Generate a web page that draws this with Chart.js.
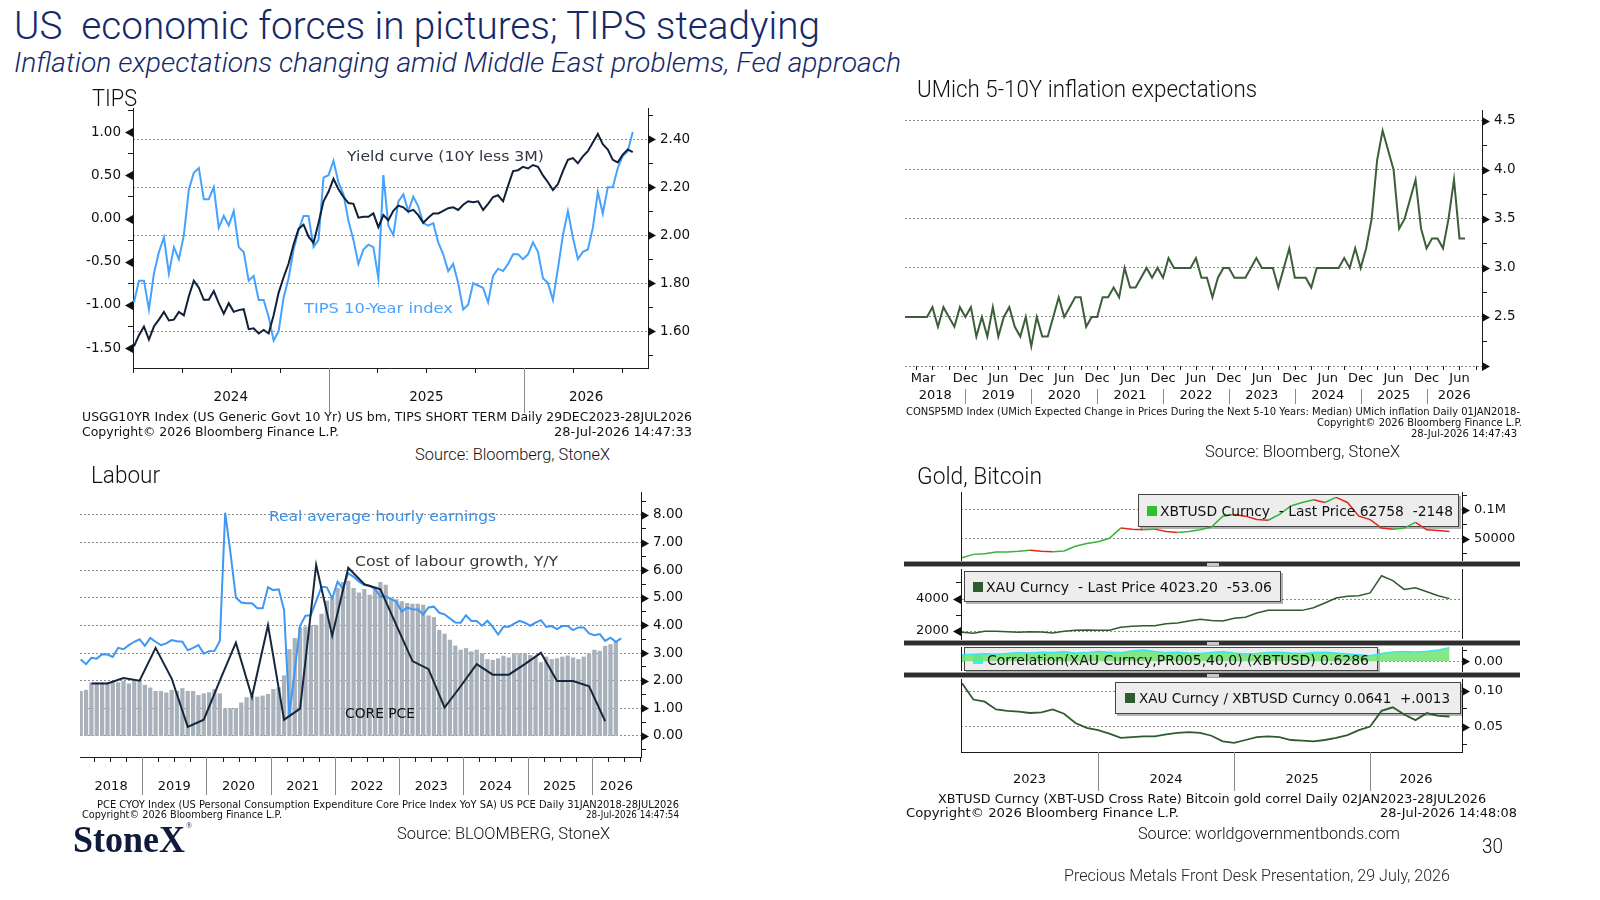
<!DOCTYPE html>
<html>
<head>
<meta charset="utf-8">
<title>US economic forces in pictures</title>
<script src="https://cdn.jsdelivr.net/npm/chart.js@4.4.1/dist/chart.umd.min.js"></script>
<style>
  html, body { margin: 0; padding: 0; background: #fff; }
  #slide { position: relative; width: 1600px; height: 900px; overflow: hidden; background: #fff; }
  #slide canvas { position: absolute; }
  .t { position: absolute; white-space: pre; line-height: 1; transform-origin: 0 50%; }
  .sep { position: absolute; left: 904px; width: 616px; height: 4px; background: #2e2e2e;
         border-top: 1px solid #a0a0a0; border-bottom: 1px solid #a0a0a0; }
  .notch { position: absolute; left: 1207px; width: 12px; height: 3px; background: #c8c8c8; }
</style>
</head>
<body>
<div id="slide"></div>
<script>
// ---------- data ----------
// TIPS panel: one reading every ~9 days, end Dec 2023 .. 28 Jul 2026
const tipsStart = 2024.005;
const tipsStep = 0.0255;
const yieldCurve10y3m = [
  -1.48, -1.35, -1.25, -1.40, -1.25, -1.17, -1.08, -1.18, -1.17, -1.08,
  -1.12, -0.90, -0.72, -0.80, -0.94, -0.94, -0.84, -0.98, -1.10, -0.98,
  -1.08, -1.06, -1.05, -1.28, -1.27, -1.33, -1.29, -1.33, -1.12, -0.86,
  -0.68, -0.52, -0.30, -0.12, -0.07, -0.21, -0.28, -0.05, 0.20, 0.31,
  0.46, 0.34, 0.25, 0.18, 0.17, 0.01, 0.02, 0.02, 0.06, -0.10,
  0.04, -0.02, 0.09, 0.15, 0.13, 0.08, 0.10, 0.04, -0.05, 0.01,
  0.06, 0.06, 0.09, 0.12, 0.13, 0.10, 0.16, 0.20, 0.19, 0.20,
  0.10, 0.17, 0.25, 0.27, 0.20, 0.38, 0.55, 0.56, 0.60, 0.58,
  0.62, 0.60, 0.50, 0.42, 0.33, 0.40, 0.55, 0.68, 0.70, 0.64,
  0.72, 0.78, 0.88, 0.98, 0.86, 0.80, 0.68, 0.65, 0.74, 0.80,
  0.77
];
const tips10yIndex = [
  1.72, 1.81, 1.81, 1.69, 1.84, 1.93, 1.99, 1.84, 1.95, 1.90,
  2.00, 2.19, 2.26, 2.28, 2.15, 2.15, 2.20, 2.03, 2.08, 2.04,
  2.10, 1.95, 1.93, 1.81, 1.83, 1.73, 1.73, 1.66, 1.56, 1.60,
  1.74, 1.82, 1.94, 2.02, 2.08, 2.08, 1.95, 1.98, 2.24, 2.25,
  2.31, 2.22, 2.17, 2.06, 1.98, 1.88, 1.94, 1.96, 1.95, 1.82,
  2.25, 2.04, 2.00, 2.14, 2.17, 2.10, 2.16, 2.12, 2.05, 2.04,
  2.05, 1.97, 1.92, 1.85, 1.88, 1.80, 1.69, 1.71, 1.80, 1.79,
  1.78, 1.72, 1.83, 1.86, 1.85, 1.88, 1.92, 1.92, 1.90, 1.92,
  1.97, 1.93, 1.82, 1.80, 1.73, 1.86, 2.00, 2.10, 1.99, 1.90,
  1.93, 1.94, 2.03, 2.18, 2.09, 2.20, 2.20, 2.28, 2.33, 2.35,
  2.43
];
const tipsLeftMajor = [-1.5, -1, -0.5, 0, 0.5, 1];
const tipsLeftMinor = [-1.25, -0.75, -0.25, 0.25, 0.75, 1.25];
const tipsRightMajor = [1.6, 1.8, 2.0, 2.2, 2.4];
const tipsRightMinor = [1.5, 1.7, 1.9, 2.1, 2.3, 2.5];
const tipsYears = ['2024', '2025', '2026'];

// UMich 5-10Y expectations, monthly Jan 2018 .. Jul 2026
const umich5to10Y = [
  2.5, 2.5, 2.5, 2.5, 2.5, 2.6, 2.4, 2.6, 2.5, 2.4, 2.6, 2.5,
  2.6, 2.3, 2.5, 2.3, 2.6, 2.3, 2.5, 2.6, 2.4, 2.3, 2.5, 2.2,
  2.5, 2.3, 2.3, 2.5, 2.7, 2.5, 2.6, 2.7, 2.7, 2.4, 2.5, 2.5,
  2.7, 2.7, 2.8, 2.7, 3.0, 2.8, 2.8, 2.9, 3.0, 2.9, 3.0, 2.9,
  3.1, 3.0, 3.0, 3.0, 3.0, 3.1, 2.9, 2.9, 2.7, 2.9, 3.0, 3.0,
  2.9, 2.9, 2.9, 3.0, 3.1, 3.0, 3.0, 3.0, 2.8, 3.0, 3.2, 2.9,
  2.9, 2.9, 2.8, 3.0, 3.0, 3.0, 3.0, 3.0, 3.1, 3.0, 3.2, 3.0,
  3.2, 3.5, 4.1, 4.4, 4.2, 4.0, 3.4, 3.5, 3.7, 3.9, 3.4, 3.2,
  3.3, 3.3, 3.2, 3.5, 3.9, 3.3, 3.3
];
const umichMajor = [2.0, 2.5, 3.0, 3.5, 4.0, 4.5];
const umichLabelled = [2.5, 3.0, 3.5, 4.0, 4.5];
const umichMinor = [2.25, 2.75, 3.25, 3.75, 4.25];
const umichMonthLabels = ['Mar', 'Dec', 'Jun', 'Dec', 'Jun', 'Dec', 'Jun', 'Dec', 'Jun',
  'Dec', 'Jun', 'Dec', 'Jun', 'Dec', 'Jun', 'Dec', 'Jun'];
const umichYears = ['2018', '2019', '2020', '2021', '2022', '2023', '2024', '2025', '2026'];

// Labour panel, monthly Jan 2018 ..
const corePce = [
  1.62, 1.66, 1.93, 1.93, 1.93, 1.93, 1.98, 1.93, 1.98, 1.89,
  1.98, 1.98, 1.84, 1.74, 1.62, 1.62, 1.56, 1.66, 1.62, 1.72,
  1.62, 1.62, 1.47, 1.53, 1.57, 1.69, 1.53, 0.99, 0.99, 0.99,
  1.20, 1.39, 1.44, 1.41, 1.45, 1.51, 1.69, 1.75, 2.18, 3.13,
  3.53, 3.92, 3.95, 3.99, 4.01, 4.41, 4.88, 5.01, 5.34, 5.56,
  5.61, 5.34, 5.18, 5.31, 5.10, 5.40, 5.56, 5.46, 5.00, 4.94,
  4.86, 4.80, 4.77, 4.77, 4.74, 4.35, 4.29, 3.83, 3.69, 3.47,
  3.26, 3.11, 3.17, 3.05, 3.11, 2.98, 2.77, 2.74, 2.80, 2.89,
  2.83, 2.98, 2.98, 2.98, 2.92, 2.86, 2.66, 2.86, 2.77, 2.80,
  2.86, 2.90, 2.83, 2.77, 2.86, 2.98, 3.11, 3.07, 3.25, 3.31,
  3.41
];
const realHourlyEarnings = [
  2.77, 2.60, 2.83, 2.80, 2.96, 2.95, 2.86, 3.19, 3.14, 3.29,
  3.41, 3.50, 3.26, 3.55, 3.41, 3.29, 3.35, 3.47, 3.43, 3.41,
  3.10, 3.19, 3.29, 2.98, 3.07, 3.08, 3.44, 8.08, 6.61, 5.01,
  4.83, 4.80, 4.80, 4.62, 4.62, 5.38, 5.28, 5.31, 4.56, 0.75,
  2.38, 3.99, 4.35, 4.37, 4.88, 5.40, 5.38, 4.98, 5.58, 5.34,
  5.89, 5.76, 5.58, 5.46, 5.44, 5.32, 5.04, 5.06, 4.95, 4.86,
  4.50, 4.65, 4.59, 4.58, 4.40, 4.65, 4.68, 4.46, 4.40, 4.25,
  4.11, 4.10, 4.37, 4.16, 4.16, 3.99, 4.17, 3.95, 3.67, 3.95,
  3.95, 4.07, 4.17, 4.10, 3.99, 4.10, 4.19, 3.95, 3.98, 3.87,
  3.98, 3.98, 3.83, 3.93, 3.93, 3.71, 3.65, 3.69, 3.44, 3.56,
  3.41, 3.53
];
// quarterly, Mar 2018 .. Mar 2026
const labourCostQ = [1.9, 1.9, 2.1, 2.0, 3.19, 2.08, 0.33, 0.59, 2.0, 3.38, 1.41,
  4.01, 0.59, 0.99, 6.19, 3.63, 6.09, 5.49, 5.31, 4.0, 2.71, 2.42, 1.03, 1.8,
  2.6, 2.22, 2.22, 2.6, 3.01, 1.99, 1.99, 1.8, 0.54];
const labourMajor = [0, 1, 2, 3, 4, 5, 6, 7, 8];
const labourMinor = [-0.5, 0.5, 1.5, 2.5, 3.5, 4.5, 5.5, 6.5, 7.5, 8.5];
const labourYears = ['2018', '2019', '2020', '2021', '2022', '2023', '2024', '2025', '2026'];

// Gold / Bitcoin, monthly Jan 2023 .. Jul 2026
const xbtusd = [17650, 23500, 24700, 27600, 27600, 28800, 30600, 28800, 28200, 29400,
  37600, 42400, 45300, 51200, 68800, 67000, 65900, 67000, 63000, 61200, 63000, 65900,
  70600, 89400, 92400, 89400, 83500, 82400, 92400, 107000, 113000, 117600, 113000,
  121800, 113000, 89400, 83500, 68800, 67000, 68800, 78800, 65900, 64700, 62758];
const xau = [1920, 1860, 1980, 1990, 1960, 1920, 1960, 1940, 1870, 1990, 2040, 2060,
  2040, 2050, 2230, 2290, 2330, 2330, 2450, 2500, 2630, 2740, 2650, 2620,
  2800, 2860, 3120, 3290, 3290, 3300, 3290, 3450, 3750, 4060, 4170, 4210,
  4380, 5450, 5150, 4600, 4700, 4450, 4200, 4023.2];
const xauXbtCorr = [0.30, 0.33, 0.35, 0.32, 0.36, 0.40, 0.38, 0.42, 0.40, 0.44,
  0.38, 0.40, 0.45, 0.42, 0.40, 0.48, 0.52, 0.45, 0.40, 0.42,
  0.38, 0.36, 0.40, 0.44, 0.38, 0.34, 0.36, 0.40, 0.42, 0.38,
  0.36, 0.40, 0.42, 0.38, 0.34, 0.30, 0.26, 0.36, 0.43, 0.45,
  0.43, 0.46, 0.52, 0.6286];
const xauPerXbt = [0.111, 0.088, 0.085, 0.074, 0.072, 0.071, 0.069, 0.070, 0.074, 0.068,
  0.055, 0.048, 0.045, 0.040, 0.034, 0.035, 0.036, 0.036, 0.039, 0.041,
  0.042, 0.041, 0.037, 0.029, 0.027, 0.031, 0.035, 0.036, 0.035, 0.031,
  0.030, 0.029, 0.031, 0.034, 0.038, 0.045, 0.050, 0.072, 0.077, 0.067,
  0.059, 0.069, 0.065, 0.0641];
const goldYears = ['2023', '2024', '2025', '2026'];

// ---------- helpers ----------
const slide = document.getElementById('slide');
const SANS = 'Roboto, Inter, "Noto Sans", sans-serif';
const BBG = '"DejaVu Sans", Verdana, sans-serif';
const NAVY = '#15296a';

Chart.defaults.font.family = BBG;
Chart.defaults.font.size = 13.5;
Chart.defaults.color = '#111';
Chart.defaults.animation = false;
Chart.defaults.responsive = false;
Chart.defaults.maintainAspectRatio = false;
Chart.defaults.plugins.legend.display = false;
Chart.defaults.plugins.tooltip.enabled = false;
Chart.defaults.elements.point.radius = 0;
Chart.defaults.elements.line.tension = 0;

function canvasAt(left, top, w, h) {
  const c = document.createElement('canvas');
  c.width = w; c.height = h;
  Object.assign(c.style, { left: left + 'px', top: top + 'px', width: w + 'px', height: h + 'px' });
  slide.appendChild(c);
  return c;
}

function label(text, o) {
  const d = document.createElement('div');
  d.className = 't';
  d.textContent = text;
  d.style.fontFamily = o.family || SANS;
  d.style.fontSize = o.size + 'px';
  d.style.fontStyle = o.italic ? 'italic' : 'normal';
  d.style.fontWeight = o.weight || (o.family ? 400 : 300);
  d.style.color = o.color || '#111';
  if (o.stroke) d.style.webkitTextStroke = o.stroke;
  slide.appendChild(d);
  const nat = d.getBoundingClientRect().width;
  const w = o.w || nat;
  d.style.transform = 'scaleX(' + (w / nat).toFixed(4) + ')';
  d.style.left = (o.right != null ? o.right - w : o.x) + 'px';
  d.style.top = (o.cy - o.size / 2) + 'px';
  return d;
}

const pts = (arr, x0, step) => arr.map((v, i) => ({ x: x0 + i * step, y: v }));
const near = (list, v) => list.some(m => Math.abs(m - v) < 1e-9);
function centers(edges) {
  const out = [];
  for (let i = 0; i < edges.length - 1; i++) out.push((edges[i] + edges[i + 1]) / 2);
  return out;
}

function yAxis({ pos, min, max, major, minor = [], labelled = major, fmt, width, grid = false, size = 13.5 }) {
  const all = major.concat(minor).filter(v => v >= min && v <= max).sort((a, b) => a - b);
  return {
    position: pos, min, max,
    afterBuildTicks: s => { s.ticks = all.map(v => ({ value: v })); },
    afterFit: s => { s.width = width; s.paddingTop = 0; s.paddingBottom = 0; },
    ticks: { autoSkip: false, padding: 7, font: { size }, color: '#111',
      callback: v => near(labelled, v) ? fmt(v) : '' },
    grid: { drawOnChartArea: grid, drawTicks: true, tickLength: 5, tickColor: '#1a1a1a', tickWidth: 1,
      lineWidth: 1, color: c => (grid && c.tick && near(major, c.tick.value)) ? '#8e8e8e' : 'rgba(0,0,0,0)' },
    border: { display: true, color: '#1a1a1a', width: 1, dash: [2, 2] }
  };
}

// Bloomberg style triangles on the labelled ticks
function arrows(list) {
  return {
    id: 'arrows',
    afterDraw(chart) {
      const ctx = chart.ctx;
      ctx.save();
      ctx.fillStyle = '#111';
      list.forEach(a => {
        const s = chart.scales[a.id];
        const ax = a.side === 'left' ? s.right : s.left;
        const dir = a.side === 'left' ? -8 : 8;
        a.values.forEach(v => {
          const y = Math.round(s.getPixelForValue(v)) + 0.5;
          ctx.beginPath();
          ctx.moveTo(ax, y - 4.5);
          ctx.lineTo(ax + dir, y);
          ctx.lineTo(ax, y + 4.5);
          ctx.closePath();
          ctx.fill();
        });
      });
      ctx.restore();
    }
  };
}

// date axis under the plot: line, tick marks, year separators and label rows
function bottomAxis(o) {
  return {
    id: 'bottomAxis',
    afterDraw(chart) {
      const { ctx, chartArea: a } = chart;
      const x = chart.scales.x;
      const px = v => Math.round(x.getPixelForValue(v)) + 0.5;
      const y0 = Math.round(a.bottom);
      ctx.save();
      ctx.lineWidth = 1;
      (o.frame || []).forEach(side => {
        const xx = Math.round(side === 'left' ? a.left : a.right) + 0.5;
        ctx.strokeStyle = '#1a1a1a';
        ctx.beginPath(); ctx.moveTo(xx, a.top); ctx.lineTo(xx, a.bottom); ctx.stroke();
      });
      if (o.line) {
        ctx.strokeStyle = o.line;
        ctx.beginPath(); ctx.moveTo(a.left, y0 + 0.5); ctx.lineTo(a.right, y0 + 0.5); ctx.stroke();
      }
      ctx.strokeStyle = '#1a1a1a';
      (o.ticks || []).forEach(v => {
        ctx.beginPath(); ctx.moveTo(px(v), y0); ctx.lineTo(px(v), y0 + o.tickLen); ctx.stroke();
      });
      ctx.strokeStyle = o.sepColor || '#8a8a8a';
      (o.seps || []).forEach(v => {
        ctx.beginPath(); ctx.moveTo(px(v), y0 + (o.sepFrom || 0)); ctx.lineTo(px(v), y0 + o.sepTo); ctx.stroke();
      });
      ctx.fillStyle = '#111';
      ctx.textAlign = 'center';
      ctx.textBaseline = 'middle';
      ctx.font = (o.fontSize || 13.5) + 'px ' + BBG;
      (o.rows || []).forEach(r => r.text.forEach((t, i) => ctx.fillText(t, x.getPixelForValue(r.at[i]), y0 + r.dy)));
      ctx.restore();
    }
  };
}

// grey legend box, drawn under the series like the terminal does
function legendBox(cl, ct, b) {
  return {
    id: 'legendBox',
    beforeDatasetsDraw(chart) {
      const ctx = chart.ctx;
      const x = b.x1 - cl, y = b.y1 - ct, w = b.x2 - b.x1, h = b.y2 - b.y1;
      ctx.save();
      ctx.fillStyle = 'rgba(0,0,0,0.3)';
      ctx.fillRect(x + 2, y + 2, w, h);
      ctx.fillStyle = '#ededed';
      ctx.fillRect(x, y, w, h);
      ctx.strokeStyle = '#444';
      ctx.lineWidth = 1;
      ctx.strokeRect(x + 0.5, y + 0.5, w - 1, h - 1);
      ctx.fillStyle = b.color;
      ctx.fillRect(b.sx - cl, Math.round(y + h / 2 - 5), 10, 10);
      ctx.restore();
    }
  };
}

// ---------- TIPS ----------
const tipsMin = 2024, tipsMax = 2026.633;
const tipsSeps = [2025, 2026];
const tipsQuarters = [];
for (let q = 2024; q <= 2026.5; q += 0.25) tipsQuarters.push(q);
new Chart(canvasAt(70, 90, 640, 340), {
  type: 'line',
  data: { datasets: [
    { data: pts(yieldCurve10y3m, tipsStart, tipsStep), yAxisID: 'y', borderColor: '#0f2038', borderWidth: 2 },
    { data: pts(tips10yIndex, tipsStart, tipsStep), yAxisID: 'y1', borderColor: '#45a2ff', borderWidth: 2 }
  ] },
  options: {
    layout: { padding: { top: 18, bottom: 62 } },
    scales: {
      x: { type: 'linear', display: false, min: tipsMin, max: tipsMax },
      y: yAxis({ pos: 'left', min: -1.73, max: 1.28, major: tipsLeftMajor, minor: tipsLeftMinor, fmt: v => v.toFixed(2), width: 63 }),
      y1: yAxis({ pos: 'right', min: 1.446, max: 2.53, major: tipsRightMajor, minor: tipsRightMinor, fmt: v => v.toFixed(2), width: 62, grid: true })
    }
  },
  plugins: [
    bottomAxis({ line: '#1a1a1a', ticks: tipsQuarters, tickLen: 5, seps: tipsSeps, sepTo: 45,
      rows: [{ text: tipsYears, at: centers([tipsMin, ...tipsSeps, tipsMax]), dy: 29 }] }),
    arrows([{ id: 'y', side: 'left', values: tipsLeftMajor }, { id: 'y1', side: 'right', values: tipsRightMajor }])
  ]
});

// ---------- UMich ----------
const umichMax = 105.1;
const umichSeps = [11, 23, 35, 47, 59, 71, 83, 95];
const umichMonthAt = [3.3];
umichSeps.forEach(s => { umichMonthAt.push(s, s + 6); });
const umichTicks = [];
for (let i = 2; i <= 104; i += 3) umichTicks.push(i);
new Chart(canvasAt(890, 95, 630, 350), {
  type: 'line',
  data: { datasets: [
    { data: pts(umich5to10Y, 0, 1), borderColor: '#3c5f3a', borderWidth: 2 }
  ] },
  options: {
    layout: { padding: { left: 15, top: 15, bottom: 79 } },
    scales: {
      x: { type: 'linear', display: false, min: 0, max: umichMax },
      y: yAxis({ pos: 'right', min: 2.0, max: 4.61, major: umichMajor, minor: umichMinor, labelled: umichLabelled,
        fmt: v => v.toFixed(1), width: 38, grid: true })
    }
  },
  plugins: [
    bottomAxis({ ticks: umichTicks, tickLen: 4, seps: umichSeps, sepFrom: 23, sepTo: 38, fontSize: 13,
      rows: [{ text: umichMonthLabels, at: umichMonthAt, dy: 13 },
             { text: umichYears, at: centers([0, ...umichSeps, umichMax]), dy: 30 }] }),
    arrows([{ id: 'y', side: 'right', values: umichMajor }])
  ]
});

// ---------- Labour ----------
const labMin = -0.13, labMax = 104.7;
const labSeps = [11.5, 23.5, 35.5, 47.5, 59.5, 71.5, 83.5, 95.5];
const labTicks = [];
for (let i = 2.5; i <= 104.5; i += 3) labTicks.push(i);
new Chart(canvasAt(60, 477, 640, 333), {
  type: 'line',
  data: { datasets: [
    { data: pts(labourCostQ, 2, 3), borderColor: '#16263d', borderWidth: 2, order: 0 },
    { data: pts(realHourlyEarnings, 0, 1), borderColor: '#3f97f2', borderWidth: 2, order: 1 },
    { type: 'bar', data: pts(corePce, 0, 1), backgroundColor: '#a9b1bb', barThickness: 3.6, order: 2 }
  ] },
  options: {
    layout: { padding: { left: 20, top: 15, bottom: 53 } },
    scales: {
      x: { type: 'linear', display: false, offset: false, min: labMin, max: labMax },
      y: yAxis({ pos: 'right', min: -0.76, max: 8.83, major: labourMajor, minor: labourMinor,
        fmt: v => v.toFixed(2), width: 59, grid: true })
    }
  },
  plugins: [
    bottomAxis({ line: '#1a1a1a', ticks: labTicks, tickLen: 5, seps: labSeps, sepTo: 38, fontSize: 13,
      rows: [{ text: labourYears, at: centers([labMin, ...labSeps, labMax]), dy: 30 }] }),
    arrows([{ id: 'y', side: 'right', values: labourMajor }])
  ]
});

// ---------- Gold, Bitcoin (four stacked panes) ----------
const gMin = -0.09, gMax = 44.1;
const gSeps = [12, 24, 36];
const gx = { type: 'linear', display: false, min: gMin, max: gMax };

new Chart(canvasAt(900, 477, 620, 99), {
  type: 'line',
  data: { datasets: [{ data: pts(xbtusd, 0, 1), borderWidth: 1.5, borderColor: '#36b23a',
    segment: { borderColor: c => c.p1.parsed.y >= c.p0.parsed.y ? '#36b23a' : '#e3261c' } }] },
  options: {
    layout: { padding: { left: 61, top: 15, bottom: 15 } },
    scales: { x: gx, y: yAxis({ pos: 'right', min: 12069, max: 131034, major: [50000, 100000],
      minor: [25000, 75000, 125000], fmt: v => v === 100000 ? '0.1M' : String(v), width: 58, grid: true, size: 13 }) }
  },
  plugins: [legendBox(900, 477, { x1: 1138, y1: 494, x2: 1459, y2: 527, sx: 1147, color: '#2fc02f' }),
    bottomAxis({ frame: ['left'] }), arrows([{ id: 'y', side: 'right', values: [50000, 100000] }])]
});

new Chart(canvasAt(900, 554, 620, 100), {
  type: 'line',
  data: { datasets: [{ data: pts(xau, 0, 1), borderWidth: 1.5, borderColor: '#2f5b2f' }] },
  options: {
    layout: { padding: { right: 58, top: 15, bottom: 15 } },
    scales: { x: gx, y: yAxis({ pos: 'left', min: 1500, max: 5875, major: [2000, 4000], minor: [3000, 5000],
      fmt: v => String(v), width: 61, grid: true, size: 13 }) }
  },
  plugins: [legendBox(900, 554, { x1: 964, y1: 571, x2: 1281, y2: 602, sx: 973, color: '#2f5b2f' }),
    bottomAxis({ frame: ['right'] }), arrows([{ id: 'y', side: 'left', values: [2000, 4000] }])]
});

new Chart(canvasAt(900, 632, 620, 54), {
  type: 'line',
  data: { datasets: [{ data: pts(xauXbtCorr, 0, 1), borderWidth: 1.5, borderColor: '#3ee3ee',
    backgroundColor: 'rgba(112,228,112,0.85)', fill: 'origin' }] },
  options: {
    layout: { padding: { left: 61, top: 15, bottom: 15 } },
    scales: { x: gx, y: yAxis({ pos: 'right', min: -0.45, max: 0.66, major: [0], minor: [0.5],
      fmt: v => v.toFixed(2), width: 58, grid: true, size: 13 }) }
  },
  plugins: [legendBox(900, 632, { x1: 964, y1: 647, x2: 1378, y2: 671, sx: 973, color: '#2ff3ff' }),
    bottomAxis({ frame: ['left'] }), arrows([{ id: 'y', side: 'right', values: [0] }])]
});

new Chart(canvasAt(900, 664, 620, 136), {
  type: 'line',
  data: { datasets: [{ data: pts(xauPerXbt, 0, 1), borderWidth: 1.8, borderColor: '#2f5b2f' }] },
  options: {
    layout: { padding: { left: 61, top: 15, bottom: 48 } },
    scales: { x: gx, y: yAxis({ pos: 'right', min: 0.0141, max: 0.1169, major: [0.05, 0.10], minor: [0.025, 0.075],
      fmt: v => v.toFixed(2), width: 58, grid: true, size: 13 }) }
  },
  plugins: [legendBox(900, 664, { x1: 1115, y1: 682, x2: 1461, y2: 714, sx: 1125, color: '#2f5b2f' }),
    bottomAxis({ frame: ['left'], line: '#1a1a1a', seps: gSeps, sepTo: 39, fontSize: 13,
      rows: [{ text: goldYears, at: centers([gMin, ...gSeps, gMax]), dy: 28 }] }),
    arrows([{ id: 'y', side: 'right', values: [0.05, 0.10] }])]
});

// pane separators
[561, 640, 672].forEach(y => {
  const s = document.createElement('div'); s.className = 'sep'; s.style.top = y + 'px'; slide.appendChild(s);
  const n = document.createElement('div'); n.className = 'notch'; n.style.top = (y + 2) + 'px'; slide.appendChild(n);
});

// ---------- text ----------
label('US  economic forces in pictures; TIPS steadying', { x: 14, cy: 26, w: 806, size: 39, color: NAVY });
label('Inflation expectations changing amid Middle East problems, Fed approach', { x: 14, cy: 63, w: 887, size: 27, color: NAVY, italic: true });
label('TIPS', { x: 92, cy: 98, w: 45, size: 24 });
label('UMich 5-10Y inflation expectations', { x: 917, cy: 89, w: 340, size: 24 });
label('Labour', { x: 91, cy: 475, w: 69, size: 24 });
label('Gold, Bitcoin', { x: 917, cy: 476, w: 125, size: 24 });

label('Yield curve (10Y less 3M)', { x: 347, cy: 156, w: 197, size: 14.5, family: BBG, color: '#2f3742' });
label('TIPS 10-Year index', { x: 304, cy: 308, w: 149, size: 14.5, family: BBG, color: '#4aa3ff' });
label('Real average hourly earnings', { x: 269, cy: 516, w: 227, size: 14.5, family: BBG, color: '#3a8ee6' });
label('Cost of labour growth, Y/Y', { x: 355, cy: 561, w: 203, size: 14.5, family: BBG, color: '#3a3a3a' });
label('CORE PCE', { x: 345, cy: 713, w: 70, size: 14.5, family: BBG, color: '#111' });

label('XBTUSD Curncy  - Last Price 62758  -2148', { x: 1160, cy: 511, w: 293, size: 14.5, family: BBG });
label('XAU Curncy  - Last Price 4023.20  -53.06', { x: 986, cy: 587, w: 286, size: 14.5, family: BBG });
label('Correlation(XAU Curncy,PR005,40,0) (XBTUSD) 0.6286', { x: 987, cy: 660, w: 382, size: 14.5, family: BBG });
label('XAU Curncy / XBTUSD Curncy 0.0641  +.0013', { x: 1139, cy: 698, w: 311, size: 14.5, family: BBG });

label('USGG10YR Index (US Generic Govt 10 Yr) US bm, TIPS SHORT TERM Daily 29DEC2023-28JUL2026', { x: 82, cy: 416, w: 610, size: 13, family: BBG });
label('Copyright\u00a9 2026 Bloomberg Finance L.P.', { x: 82, cy: 431, w: 257, size: 13, family: BBG });
label('28-Jul-2026 14:47:33', { right: 692, cy: 431, w: 138, size: 13, family: BBG });
label('Source: Bloomberg, StoneX', { x: 415, cy: 455, w: 195, size: 16 });

label('CONSP5MD Index (UMich Expected Change in Prices During the Next 5-10 Years: Median) UMich inflation Daily 01JAN2018-', { x: 906, cy: 412, w: 614, size: 10, family: BBG });
label('Copyright\u00a9 2026 Bloomberg Finance L.P.', { right: 1522, cy: 423, w: 205, size: 10, family: BBG });
label('28-Jul-2026 14:47:43', { right: 1517, cy: 434, w: 106, size: 10, family: BBG });
label('Source: Bloomberg, StoneX', { x: 1205, cy: 452, w: 195, size: 16 });

label('PCE CYOY Index (US Personal Consumption Expenditure Core Price Index YoY SA) US PCE Daily 31JAN2018-28JUL2026', { x: 97, cy: 804, w: 582, size: 10.5, family: BBG });
label('Copyright\u00a9 2026 Bloomberg Finance L.P.', { x: 82, cy: 814, w: 200, size: 10.5, family: BBG });
label('28-Jul-2026 14:47:54', { right: 679, cy: 814, w: 93, size: 10.5, family: BBG });
label('Source: BLOOMBERG, StoneX', { x: 397, cy: 834, w: 213, size: 16 });

label('XBTUSD Curncy (XBT-USD Cross Rate) Bitcoin gold correl Daily 02JAN2023-28JUL2026', { x: 938, cy: 799, w: 548, size: 12, family: BBG });
label('Copyright\u00a9 2026 Bloomberg Finance L.P.', { x: 906, cy: 813, w: 273, size: 12, family: BBG });
label('28-Jul-2026 14:48:08', { right: 1517, cy: 813, w: 137, size: 12, family: BBG });
label('Source: worldgovernmentbonds.com', { x: 1138, cy: 834, w: 262, size: 16 });

label('StoneX', { x: 73, cy: 839, w: 112, size: 37, family: '"Liberation Serif", "DejaVu Serif", serif', color: '#101a3c', weight: 700 });
label('\u00ae', { x: 186, cy: 826, size: 8, family: '"Liberation Serif", serif', color: '#101a3c' });
label('30', { x: 1482, cy: 846, w: 21, size: 21 });
label('Precious Metals Front Desk Presentation, 29 July, 2026', { x: 1064, cy: 876, w: 386, size: 16, color: '#222' });
</script>
</body>
</html>
